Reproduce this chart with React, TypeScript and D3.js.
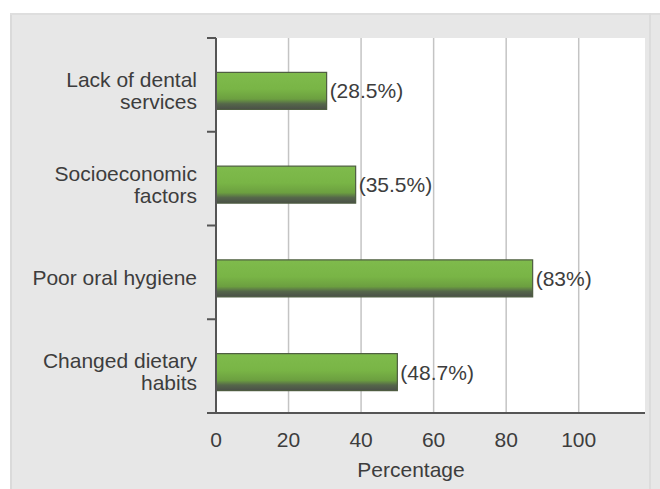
import * as React from 'react';
import * as d3 from 'd3';

const categories = [
  'Lack of dental services',
  'Socioeconomic factors',
  'Poor oral hygiene',
  'Changed dietary habits',
];
// category labels split into lines as printed
const categoryLines = [
  ['Lack of dental', 'services'],
  ['Socioeconomic', 'factors'],
  ['Poor oral hygiene'],
  ['Changed dietary', 'habits'],
];
// bar lengths as drawn in the figure
const barValues = [30.5, 38.5, 87.3, 50];
const valueLabels = ['(28.5%)', '(35.5%)', '(83%)', '(48.7%)'];
const xTicks = [0, 20, 40, 60, 80, 100];
const gridTicks = [20, 40, 60, 80, 100];

const W = 660;
const H = 489;
const left = 216;
const right = 644;
const top = 38;
const bottom = 413;
const font = 'Liberation Sans, Arial, sans-serif';

export default function App() {
  const x = React.useMemo(
    () => d3.scaleLinear().domain([0, 118]).range([left, right]),
    []
  );
  const y = React.useMemo(
    () => d3.scaleBand<string>().domain(categories).range([top, bottom]),
    []
  );
  const barH = 37;
  const bw = y.bandwidth();

  return (
    <svg
      width={W}
      height={H}
      style={{ position: 'absolute', left: 0, top: 0 }}
      fontFamily={font}
    >
      <defs>
        <linearGradient id="barGrad" x1="0" y1="0" x2="0" y2="1">
          <stop offset="0" stopColor="#7fbb4c" />
          <stop offset="0.45" stopColor="#79b546" />
          <stop offset="0.72" stopColor="#6c9f40" />
          <stop offset="0.85" stopColor="#55674a" />
          <stop offset="1" stopColor="#4a4f48" />
        </linearGradient>
      </defs>
      <rect x={0} y={0} width={W} height={H} fill="#ffffff" />
      <rect x={10} y={13} width={650} height={476} fill="#e7e7e7" />
      <line x1={11} x2={11} y1={13} y2={H} stroke="#dadada" strokeWidth={2} />
      <line x1={10} x2={W} y1={14} y2={14} stroke="#dedede" strokeWidth={2} />
      <line x1={650} x2={650} y1={13} y2={H} stroke="#dcdcdc" strokeWidth={2} />
      <rect x={left} y={top} width={right - left + 1} height={bottom - top} fill="#ffffff" />

      {/* grid */}
      {gridTicks.map((t) => (
        <line
          key={'g' + t}
          x1={x(t)}
          x2={x(t)}
          y1={top}
          y2={bottom}
          stroke="#c4c4c4"
          strokeWidth={1.5}
        />
      ))}

      {/* bars */}
      {categories.map((c, i) => {
        const cy = (y(c) ?? 0) + bw / 2 + 6;
        return (
          <g key={c}>
            <rect
              x={x(0)}
              y={cy - barH / 2}
              width={x(barValues[i]) - x(0)}
              height={barH}
              fill="url(#barGrad)"
              stroke="#4d5c40"
              strokeWidth={1.2}
            />
            <text
              x={x(barValues[i]) + 3}
              y={cy + 7.5}
              fontSize={21}
              fill="#3d3d3d"
            >
              {valueLabels[i]}
            </text>
            {categoryLines[i].map((ln, j) => (
              <text
                key={ln}
                x={197}
                y={cy + 7 + (j - (categoryLines[i].length - 1) / 2) * 22}
                fontSize={21}
                textAnchor="end"
                fill="#3d3d3d"
              >
                {ln}
              </text>
            ))}
          </g>
        );
      })}

      {/* axes */}
      <line x1={left} x2={left} y1={top} y2={bottom} stroke="#555" strokeWidth={2} />
      <line x1={207} x2={right + 1} y1={bottom} y2={bottom} stroke="#555" strokeWidth={2} />
      {categories.map((c) => (
        <line
          key={'t' + c}
          x1={207}
          x2={left}
          y1={y(c)}
          y2={y(c)}
          stroke="#555"
          strokeWidth={2}
        />
      ))}
      {xTicks.map((t) => (
        <text
          key={'x' + t}
          x={x(t)}
          y={447}
          fontSize={21}
          textAnchor="middle"
          fill="#3d3d3d"
        >
          {t}
        </text>
      ))}
      <text x={411} y={477} fontSize={21} textAnchor="middle" fill="#3d3d3d">
        Percentage
      </text>
    </svg>
  );
}
